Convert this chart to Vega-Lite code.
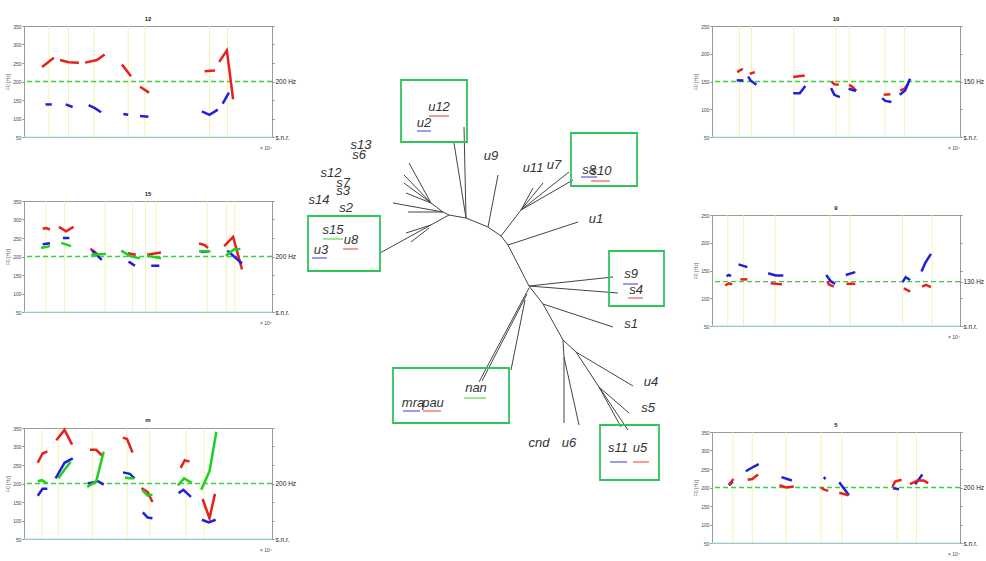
{
"$schema": "https://vega.github.io/schema/vega-lite/v6.json",
"padding": 5,
"spacing": 0,
"config": {
 "font": "Liberation Sans",
 "view": {"stroke": "#9a9a9a"},
 "axis": {"labelFontSize": 5, "titleFontSize": 5, "titleFontWeight": "normal", "labelColor": "#444", "titleColor": "#666", "tickSize": 2, "tickColor": "#888", "domain": false, "grid": false, "labelPadding": 1, "titlePadding": 2},
 "title": {"fontSize": 6, "fontWeight": "bold", "offset": 2, "color": "#222"}
},
"datasets": {
 "vl": [
  {"p":"12","x":0.36},{"p":"12","x":0.64},{"p":"12","x":1.01},{"p":"12","x":1.5},{"p":"12","x":1.74},{"p":"12","x":2.67},{"p":"12","x":2.93},
  {"p":"15","x":0.27},{"p":"15","x":0.5},{"p":"15","x":1.0},{"p":"15","x":1.34},{"p":"15","x":1.5},{"p":"15","x":1.63},{"p":"15","x":2.26},{"p":"15","x":2.5},{"p":"15","x":2.6},
  {"p":"m","x":0.26},{"p":"m","x":0.5},{"p":"m","x":1.0},{"p":"m","x":1.5},{"p":"m","x":1.83},{"p":"m","x":2.36},{"p":"m","x":2.62},
  {"p":"10","x":0.5},{"p":"10","x":0.72},{"p":"10","x":1.49},{"p":"10","x":2.26},{"p":"10","x":2.5},{"p":"10","x":3.15},{"p":"10","x":3.51},
  {"p":"9","x":0.25},{"p":"9","x":0.5},{"p":"9","x":1.0},{"p":"9","x":1.87},{"p":"9","x":2.19},{"p":"9","x":3.02},{"p":"9","x":3.49},
  {"p":"5","x":0.32},{"p":"5","x":0.62},{"p":"5","x":1.14},{"p":"5","x":1.68},{"p":"5","x":2.0},{"p":"5","x":2.85},{"p":"5","x":3.15}
 ],
 "f0": [
  {"p":"12","c":"r","s":"r1","x":0.26,"f":239},{"p":"12","c":"r","s":"r1","x":0.43,"f":264},
  {"p":"12","c":"r","s":"r2","x":0.52,"f":258},{"p":"12","c":"r","s":"r2","x":0.64,"f":252},{"p":"12","c":"r","s":"r2","x":0.79,"f":251},
  {"p":"12","c":"r","s":"r3","x":0.88,"f":251},{"p":"12","c":"r","s":"r3","x":1.05,"f":258},{"p":"12","c":"r","s":"r3","x":1.16,"f":273},
  {"p":"12","c":"r","s":"r4","x":1.41,"f":246},{"p":"12","c":"r","s":"r4","x":1.54,"f":214},
  {"p":"12","c":"r","s":"r5","x":1.67,"f":186},{"p":"12","c":"r","s":"r5","x":1.8,"f":170},
  {"p":"12","c":"r","s":"r6","x":2.6,"f":228},{"p":"12","c":"r","s":"r6","x":2.75,"f":230},
  {"p":"12","c":"r","s":"r7","x":2.81,"f":253},{"p":"12","c":"r","s":"r7","x":2.92,"f":284},{"p":"12","c":"r","s":"r7","x":3.01,"f":152},
  {"p":"12","c":"b","s":"b1","x":0.31,"f":138},{"p":"12","c":"b","s":"b1","x":0.4,"f":138},
  {"p":"12","c":"b","s":"b2","x":0.6,"f":138},{"p":"12","c":"b","s":"b2","x":0.7,"f":131},
  {"p":"12","c":"b","s":"b3","x":0.93,"f":136},{"p":"12","c":"b","s":"b3","x":1.02,"f":128},{"p":"12","c":"b","s":"b3","x":1.11,"f":117},
  {"p":"12","c":"b","s":"b4","x":1.43,"f":112},{"p":"12","c":"b","s":"b4","x":1.5,"f":110},
  {"p":"12","c":"b","s":"b5","x":1.67,"f":107},{"p":"12","c":"b","s":"b5","x":1.79,"f":105},
  {"p":"12","c":"b","s":"b6","x":2.56,"f":119},{"p":"12","c":"b","s":"b6","x":2.67,"f":110},{"p":"12","c":"b","s":"b6","x":2.79,"f":124},
  {"p":"12","c":"b","s":"b7","x":2.86,"f":140},{"p":"12","c":"b","s":"b7","x":2.95,"f":170},

  {"p":"15","c":"r","s":"r1","x":0.23,"f":275},{"p":"15","c":"r","s":"r1","x":0.27,"f":277},{"p":"15","c":"r","s":"r1","x":0.32,"f":273},
  {"p":"15","c":"r","s":"r2","x":0.43,"f":280},{"p":"15","c":"r","s":"r2","x":0.52,"f":268},{"p":"15","c":"r","s":"r2","x":0.61,"f":280},
  {"p":"15","c":"r","s":"r3","x":0.82,"f":221},{"p":"15","c":"r","s":"r3","x":0.91,"f":206},
  {"p":"15","c":"r","s":"r4","x":1.28,"f":209},{"p":"15","c":"r","s":"r4","x":1.38,"f":205},
  {"p":"15","c":"r","s":"r5","x":1.52,"f":205},{"p":"15","c":"r","s":"r5","x":1.63,"f":209},{"p":"15","c":"r","s":"r5","x":1.69,"f":211},
  {"p":"15","c":"r","s":"r6","x":2.16,"f":235},{"p":"15","c":"r","s":"r6","x":2.23,"f":231},{"p":"15","c":"r","s":"r6","x":2.27,"f":223},
  {"p":"15","c":"r","s":"r7","x":2.47,"f":228},{"p":"15","c":"r","s":"r7","x":2.58,"f":253},{"p":"15","c":"r","s":"r7","x":2.69,"f":165},
  {"p":"15","c":"b","s":"b1","x":0.23,"f":233},{"p":"15","c":"b","s":"b1","x":0.32,"f":236},
  {"p":"15","c":"b","s":"b2","x":0.48,"f":250},{"p":"15","c":"b","s":"b2","x":0.56,"f":250},
  {"p":"15","c":"b","s":"b3","x":0.84,"f":216},{"p":"15","c":"b","s":"b3","x":0.96,"f":191},
  {"p":"15","c":"b","s":"b4","x":1.29,"f":186},{"p":"15","c":"b","s":"b4","x":1.37,"f":175},
  {"p":"15","c":"b","s":"b5","x":1.57,"f":175},{"p":"15","c":"b","s":"b5","x":1.67,"f":175},
  {"p":"15","c":"b","s":"b6","x":2.18,"f":212},{"p":"15","c":"b","s":"b6","x":2.28,"f":214},
  {"p":"15","c":"b","s":"b7","x":2.51,"f":216},{"p":"15","c":"b","s":"b7","x":2.69,"f":181},
  {"p":"15","c":"g","s":"g1","x":0.21,"f":223},{"p":"15","c":"g","s":"g1","x":0.32,"f":228},
  {"p":"15","c":"g","s":"g2","x":0.46,"f":237},{"p":"15","c":"g","s":"g2","x":0.58,"f":228},
  {"p":"15","c":"g","s":"g3","x":0.83,"f":205},{"p":"15","c":"g","s":"g3","x":1.01,"f":207},
  {"p":"15","c":"g","s":"g4","x":1.2,"f":216},{"p":"15","c":"g","s":"g4","x":1.3,"f":202},{"p":"15","c":"g","s":"g4","x":1.43,"f":195},
  {"p":"15","c":"g","s":"g5","x":1.52,"f":202},{"p":"15","c":"g","s":"g5","x":1.69,"f":195},
  {"p":"15","c":"g","s":"g6","x":2.16,"f":214},{"p":"15","c":"g","s":"g6","x":2.3,"f":214},
  {"p":"15","c":"g","s":"g7","x":2.49,"f":202},{"p":"15","c":"g","s":"g7","x":2.59,"f":219},{"p":"15","c":"g","s":"g7","x":2.67,"f":220},

  {"p":"m","c":"r","s":"r1","x":0.2,"f":256},{"p":"m","c":"r","s":"r1","x":0.27,"f":281},{"p":"m","c":"r","s":"r1","x":0.34,"f":287},
  {"p":"m","c":"r","s":"r2","x":0.47,"f":317},{"p":"m","c":"r","s":"r2","x":0.59,"f":345},{"p":"m","c":"r","s":"r2","x":0.7,"f":305},
  {"p":"m","c":"r","s":"r3","x":0.96,"f":291},{"p":"m","c":"r","s":"r3","x":1.05,"f":291},{"p":"m","c":"r","s":"r3","x":1.14,"f":275},
  {"p":"m","c":"r","s":"r4","x":1.44,"f":324},{"p":"m","c":"r","s":"r4","x":1.5,"f":320},{"p":"m","c":"r","s":"r4","x":1.58,"f":284},
  {"p":"m","c":"r","s":"r5","x":1.71,"f":188},{"p":"m","c":"r","s":"r5","x":1.8,"f":177},{"p":"m","c":"r","s":"r5","x":1.87,"f":150},
  {"p":"m","c":"r","s":"r6","x":2.28,"f":242},{"p":"m","c":"r","s":"r6","x":2.34,"f":263},{"p":"m","c":"r","s":"r6","x":2.41,"f":259},
  {"p":"m","c":"r","s":"r7","x":2.6,"f":158},{"p":"m","c":"r","s":"r7","x":2.7,"f":106},{"p":"m","c":"r","s":"r7","x":2.78,"f":172},
  {"p":"m","c":"b","s":"b1","x":0.2,"f":167},{"p":"m","c":"b","s":"b1","x":0.27,"f":186},{"p":"m","c":"b","s":"b1","x":0.34,"f":186},
  {"p":"m","c":"b","s":"b2","x":0.46,"f":214},{"p":"m","c":"b","s":"b2","x":0.59,"f":256},{"p":"m","c":"b","s":"b2","x":0.71,"f":268},
  {"p":"m","c":"b","s":"b3","x":0.93,"f":200},{"p":"m","c":"b","s":"b3","x":1.08,"f":206},{"p":"m","c":"b","s":"b3","x":1.16,"f":197},
  {"p":"m","c":"b","s":"b4","x":1.44,"f":230},{"p":"m","c":"b","s":"b4","x":1.54,"f":226},{"p":"m","c":"b","s":"b4","x":1.61,"f":214},
  {"p":"m","c":"b","s":"b5","x":1.73,"f":122},{"p":"m","c":"b","s":"b5","x":1.8,"f":108},{"p":"m","c":"b","s":"b5","x":1.87,"f":106},
  {"p":"m","c":"b","s":"b6","x":2.25,"f":174},{"p":"m","c":"b","s":"b6","x":2.32,"f":183},{"p":"m","c":"b","s":"b6","x":2.43,"f":164},
  {"p":"m","c":"b","s":"b7","x":2.59,"f":102},{"p":"m","c":"b","s":"b7","x":2.69,"f":95},{"p":"m","c":"b","s":"b7","x":2.79,"f":102},
  {"p":"m","c":"g","s":"g1","x":0.2,"f":206},{"p":"m","c":"g","s":"g1","x":0.26,"f":209},{"p":"m","c":"g","s":"g1","x":0.34,"f":200},
  {"p":"m","c":"g","s":"g2","x":0.5,"f":214},{"p":"m","c":"g","s":"g2","x":0.59,"f":237},{"p":"m","c":"g","s":"g2","x":0.68,"f":259},
  {"p":"m","c":"g","s":"g3","x":0.92,"f":191},{"p":"m","c":"g","s":"g3","x":1.05,"f":205},{"p":"m","c":"g","s":"g3","x":1.16,"f":286},
  {"p":"m","c":"g","s":"g4","x":1.47,"f":216},{"p":"m","c":"g","s":"g4","x":1.53,"f":214},{"p":"m","c":"g","s":"g4","x":1.6,"f":214},
  {"p":"m","c":"g","s":"g5","x":1.72,"f":183},{"p":"m","c":"g","s":"g5","x":1.8,"f":167},{"p":"m","c":"g","s":"g5","x":1.87,"f":170},
  {"p":"m","c":"g","s":"g6","x":2.24,"f":195},{"p":"m","c":"g","s":"g6","x":2.33,"f":214},{"p":"m","c":"g","s":"g6","x":2.44,"f":202},
  {"p":"m","c":"g","s":"g7","x":2.58,"f":183},{"p":"m","c":"g","s":"g7","x":2.7,"f":233},{"p":"m","c":"g","s":"g7","x":2.8,"f":340},

  {"p":"10","c":"r","s":"r1","x":0.46,"f":167},{"p":"10","c":"r","s":"r1","x":0.56,"f":173},
  {"p":"10","c":"r","s":"r2","x":0.69,"f":164},{"p":"10","c":"r","s":"r2","x":0.78,"f":167},
  {"p":"10","c":"r","s":"r3","x":1.48,"f":158},{"p":"10","c":"r","s":"r3","x":1.69,"f":161},
  {"p":"10","c":"r","s":"r4","x":2.18,"f":150},{"p":"10","c":"r","s":"r4","x":2.23,"f":145},{"p":"10","c":"r","s":"r4","x":2.31,"f":144},
  {"p":"10","c":"r","s":"r5","x":2.5,"f":144},{"p":"10","c":"r","s":"r5","x":2.56,"f":140},{"p":"10","c":"r","s":"r5","x":2.63,"f":133},
  {"p":"10","c":"r","s":"r6","x":3.13,"f":126},{"p":"10","c":"r","s":"r6","x":3.25,"f":127},
  {"p":"10","c":"r","s":"r7","x":3.43,"f":134},{"p":"10","c":"r","s":"r7","x":3.51,"f":137},{"p":"10","c":"r","s":"r7","x":3.58,"f":147},
  {"p":"10","c":"b","s":"b1","x":0.45,"f":152},{"p":"10","c":"b","s":"b1","x":0.57,"f":152},
  {"p":"10","c":"b","s":"b2","x":0.66,"f":159},{"p":"10","c":"b","s":"b2","x":0.7,"f":152},{"p":"10","c":"b","s":"b2","x":0.81,"f":144},
  {"p":"10","c":"b","s":"b3","x":1.48,"f":129},{"p":"10","c":"b","s":"b3","x":1.6,"f":129},{"p":"10","c":"b","s":"b3","x":1.7,"f":142},
  {"p":"10","c":"b","s":"b4","x":2.17,"f":138},{"p":"10","c":"b","s":"b4","x":2.23,"f":126},{"p":"10","c":"b","s":"b4","x":2.33,"f":122},
  {"p":"10","c":"b","s":"b5","x":2.49,"f":137},{"p":"10","c":"b","s":"b5","x":2.62,"f":133},
  {"p":"10","c":"b","s":"b6","x":3.1,"f":120},{"p":"10","c":"b","s":"b6","x":3.16,"f":115},{"p":"10","c":"b","s":"b6","x":3.27,"f":113},
  {"p":"10","c":"b","s":"b7","x":3.42,"f":126},{"p":"10","c":"b","s":"b7","x":3.52,"f":134},{"p":"10","c":"b","s":"b7","x":3.61,"f":155},

  {"p":"9","c":"b","s":"b1","x":0.23,"f":140},{"p":"9","c":"b","s":"b1","x":0.27,"f":142},{"p":"9","c":"b","s":"b1","x":0.3,"f":140},
  {"p":"9","c":"b","s":"b2","x":0.42,"f":161},{"p":"9","c":"b","s":"b2","x":0.56,"f":156},
  {"p":"9","c":"b","s":"b3","x":0.89,"f":145},{"p":"9","c":"b","s":"b3","x":1.01,"f":141},{"p":"9","c":"b","s":"b3","x":1.13,"f":141},
  {"p":"9","c":"b","s":"b4","x":1.81,"f":142},{"p":"9","c":"b","s":"b4","x":1.88,"f":131},{"p":"9","c":"b","s":"b4","x":1.95,"f":126},
  {"p":"9","c":"b","s":"b5","x":2.12,"f":142},{"p":"9","c":"b","s":"b5","x":2.27,"f":147},
  {"p":"9","c":"b","s":"b6","x":3.02,"f":129},{"p":"9","c":"b","s":"b6","x":3.07,"f":138},{"p":"9","c":"b","s":"b6","x":3.14,"f":133},
  {"p":"9","c":"b","s":"b7","x":3.32,"f":148},{"p":"9","c":"b","s":"b7","x":3.38,"f":164},{"p":"9","c":"b","s":"b7","x":3.47,"f":180},
  {"p":"9","c":"r","s":"r1","x":0.21,"f":123},{"p":"9","c":"r","s":"r1","x":0.27,"f":127},{"p":"9","c":"r","s":"r1","x":0.32,"f":125},
  {"p":"9","c":"r","s":"r2","x":0.45,"f":134},{"p":"9","c":"r","s":"r2","x":0.56,"f":134},
  {"p":"9","c":"r","s":"r3","x":0.93,"f":127},{"p":"9","c":"r","s":"r3","x":1.11,"f":125},
  {"p":"9","c":"r","s":"r4","x":1.83,"f":131},{"p":"9","c":"r","s":"r4","x":1.85,"f":125},{"p":"9","c":"r","s":"r4","x":1.93,"f":121},
  {"p":"9","c":"r","s":"r5","x":2.13,"f":126},{"p":"9","c":"r","s":"r5","x":2.27,"f":126},
  {"p":"9","c":"r","s":"r6","x":3.04,"f":118},{"p":"9","c":"r","s":"r6","x":3.14,"f":112},
  {"p":"9","c":"r","s":"r7","x":3.33,"f":121},{"p":"9","c":"r","s":"r7","x":3.39,"f":124},{"p":"9","c":"r","s":"r7","x":3.47,"f":120},

  {"p":"5","c":"b","s":"b1","x":0.26,"f":206},{"p":"5","c":"b","s":"b1","x":0.32,"f":216},
  {"p":"5","c":"b","s":"b2","x":0.52,"f":244},{"p":"5","c":"b","s":"b2","x":0.64,"f":256},{"p":"5","c":"b","s":"b2","x":0.72,"f":263},
  {"p":"5","c":"b","s":"b3","x":1.07,"f":228},{"p":"5","c":"b","s":"b3","x":1.23,"f":219},
  {"p":"5","c":"b","s":"b4","x":1.72,"f":228},{"p":"5","c":"b","s":"b4","x":1.75,"f":223},
  {"p":"5","c":"b","s":"b5","x":1.96,"f":214},{"p":"5","c":"b","s":"b5","x":2.04,"f":195},{"p":"5","c":"b","s":"b5","x":2.11,"f":179},
  {"p":"5","c":"b","s":"b6","x":2.79,"f":198},{"p":"5","c":"b","s":"b6","x":2.88,"f":195},
  {"p":"5","c":"b","s":"b7","x":3.13,"f":209},{"p":"5","c":"b","s":"b7","x":3.19,"f":223},{"p":"5","c":"b","s":"b7","x":3.24,"f":235},
  {"p":"5","c":"r","s":"r1","x":0.26,"f":207},{"p":"5","c":"r","s":"r1","x":0.33,"f":223},
  {"p":"5","c":"r","s":"r2","x":0.55,"f":221},{"p":"5","c":"r","s":"r2","x":0.62,"f":223},{"p":"5","c":"r","s":"r2","x":0.71,"f":235},
  {"p":"5","c":"r","s":"r3","x":1.04,"f":206},{"p":"5","c":"r","s":"r3","x":1.14,"f":200},{"p":"5","c":"r","s":"r3","x":1.26,"f":203},
  {"p":"5","c":"r","s":"r4","x":1.68,"f":200},{"p":"5","c":"r","s":"r4","x":1.72,"f":195},{"p":"5","c":"r","s":"r4","x":1.79,"f":191},
  {"p":"5","c":"r","s":"r5","x":1.96,"f":186},{"p":"5","c":"r","s":"r5","x":2.1,"f":179},
  {"p":"5","c":"r","s":"r6","x":2.78,"f":202},{"p":"5","c":"r","s":"r6","x":2.82,"f":216},{"p":"5","c":"r","s":"r6","x":2.92,"f":221},
  {"p":"5","c":"r","s":"r7","x":3.05,"f":209},{"p":"5","c":"r","s":"r7","x":3.17,"f":219},{"p":"5","c":"r","s":"r7","x":3.26,"f":219},{"p":"5","c":"r","s":"r7","x":3.33,"f":212}
 ],
 "edges": [
  {"x1":448,"y1":215,"x2":465,"y2":218},{"x1":465,"y1":218,"x2":487,"y2":227},{"x1":487,"y1":227,"x2":500,"y2":236},
  {"x1":500,"y1":236,"x2":507,"y2":245},{"x1":507,"y1":245,"x2":528,"y2":286},{"x1":528,"y1":286,"x2":542,"y2":304},
  {"x1":542,"y1":304,"x2":562,"y2":340},{"x1":562,"y1":340,"x2":575,"y2":352},{"x1":575,"y1":352,"x2":598,"y2":387},
  {"x1":465,"y1":218,"x2":463,"y2":127},{"x1":465,"y1":218,"x2":453,"y2":143},{"x1":487,"y1":227,"x2":497,"y2":175},
  {"x1":500,"y1":236,"x2":520,"y2":210},{"x1":520,"y1":210,"x2":532,"y2":188},{"x1":520,"y1":210,"x2":542,"y2":183},
  {"x1":520,"y1":210,"x2":568,"y2":172},{"x1":520,"y1":210,"x2":572,"y2":180},{"x1":507,"y1":245,"x2":577,"y2":222},
  {"x1":528,"y1":286,"x2":612,"y2":277},{"x1":528,"y1":286,"x2":617,"y2":293},{"x1":542,"y1":304,"x2":612,"y2":327},
  {"x1":562,"y1":340,"x2":563,"y2":357},{"x1":563,"y1":357,"x2":563,"y2":423},{"x1":563,"y1":357,"x2":578,"y2":425},
  {"x1":575,"y1":352,"x2":632,"y2":386},{"x1":598,"y1":387,"x2":628,"y2":413},{"x1":598,"y1":387,"x2":620,"y2":427},
  {"x1":598,"y1":387,"x2":627,"y2":430},{"x1":528,"y1":288,"x2":478,"y2":382},{"x1":526,"y1":294,"x2":481,"y2":381},
  {"x1":524,"y1":300,"x2":510,"y2":370},{"x1":448,"y1":215,"x2":442,"y2":212},{"x1":442,"y1":212,"x2":430,"y2":203},
  {"x1":430,"y1":203,"x2":408,"y2":163},{"x1":430,"y1":203,"x2":403,"y2":175},{"x1":430,"y1":203,"x2":403,"y2":183},
  {"x1":430,"y1":203,"x2":405,"y2":193},{"x1":442,"y1":212,"x2":392,"y2":203},{"x1":442,"y1":212,"x2":407,"y2":212},
  {"x1":448,"y1":215,"x2":379,"y2":253},{"x1":430,"y1":225,"x2":405,"y2":233},{"x1":428,"y1":228,"x2":410,"y2":242}
 ],
 "boxes": [
  {"x1":400,"y1":80,"x2":466,"y2":142},{"x1":307,"y1":216,"x2":379,"y2":271},{"x1":570,"y1":133,"x2":636,"y2":186},
  {"x1":608,"y1":251,"x2":663,"y2":306},{"x1":392,"y1":368,"x2":508,"y2":423},{"x1":599,"y1":425,"x2":658,"y2":480}
 ],
 "ulines": [
  {"c":"r","x1":428,"x2":448,"y":116},{"c":"b","x1":416,"x2":430,"y":131},{"c":"g","x1":322,"x2":342,"y":239},
  {"c":"r","x1":342,"x2":357,"y":249},{"c":"b","x1":311,"x2":326,"y":258},{"c":"b","x1":580,"x2":596,"y":177},
  {"c":"r","x1":590,"x2":609,"y":181},{"c":"b","x1":622,"x2":637,"y":284},{"c":"r","x1":627,"x2":642,"y":298},
  {"c":"b","x1":609,"x2":626,"y":462},{"c":"r","x1":632,"x2":648,"y":462},{"c":"g","x1":463,"x2":485,"y":398},
  {"c":"b","x1":402,"x2":419,"y":411},{"c":"r","x1":422,"x2":440,"y":411}
 ],
 "labels": [
  {"t":"u12","x":438,"y":107},{"t":"u2","x":423,"y":123},{"t":"s13","x":360,"y":145},{"t":"s6","x":358,"y":155},
  {"t":"s12","x":330,"y":173},{"t":"s7","x":342,"y":183},{"t":"s3","x":342,"y":191},{"t":"s14","x":318,"y":200},
  {"t":"s2","x":345,"y":208},{"t":"s15","x":332,"y":230},{"t":"u8","x":350,"y":240},{"t":"u3","x":320,"y":250},
  {"t":"u9","x":490,"y":156},{"t":"u11","x":532,"y":168},{"t":"u7","x":553,"y":165},{"t":"s8","x":588,"y":170},
  {"t":"s10","x":600,"y":171},{"t":"u1","x":595,"y":219},{"t":"s9","x":630,"y":274},{"t":"s4","x":635,"y":290},
  {"t":"s1","x":630,"y":324},{"t":"u4","x":650,"y":382},{"t":"s5","x":647,"y":408},{"t":"s11","x":617,"y":448},
  {"t":"u5","x":639,"y":448},{"t":"cnd","x":538,"y":443},{"t":"u6","x":568,"y":443},{"t":"nan","x":475,"y":388},
  {"t":"mra","x":412,"y":403},{"t":"pau","x":432,"y":403}
 ]
},
"hconcat": [
 {"spacing": 0, "vconcat": [
  {"width": 248, "height": 10, "view": {"stroke": null}, "data": {"values": [{}]}, "mark": {"type": "point", "opacity": 0}, "encoding": {}},
  {"title": "12", "width": 248, "height": 111, "resolve": {"axis": {"y": "independent"}}, "layer": [
   {"data": {"name": "vl"}, "transform": [{"filter": "datum.p=='12'"}], "mark": {"type": "rule", "color": "#eef2a0", "strokeWidth": 0.8},
    "encoding": {"x": {"field": "x", "type": "quantitative", "scale": {"domain": [0, 3.57], "nice": false, "zero": false}, "axis": {"values": [0.5,1,1.5,2,2.5,3,3.5], "title": "sample [ ]"}}}},
   {"data": {"values": [{}]}, "mark": {"type": "rule", "color": "#a8eef0", "strokeWidth": 1.2}, "encoding": {"y": {"datum": 50, "type": "quantitative", "scale": {"domain": [50, 350], "nice": false, "zero": false}, "axis": null}}},
   {"data": {"values": [{}]}, "mark": {"type": "rule", "color": "#3fcf3f", "strokeDash": [5, 3], "strokeWidth": 1.3}, "encoding": {"y": {"datum": 200, "type": "quantitative", "axis": {"orient": "right", "values": [50,100,150,200,250,300,350], "labelExpr": "datum.value==200?'200 Hz':datum.value==50?'s.n.r.':''", "title": null, "labelFontSize": 6.5, "labelColor": "#222"}}}},
   {"data": {"name": "f0"}, "transform": [{"filter": "datum.p=='12'"}], "mark": {"type": "line", "strokeWidth": 2.5},
    "encoding": {"x": {"field": "x", "type": "quantitative", "axis": null}, "y": {"field": "f", "type": "quantitative", "axis": {"values": [50,100,150,200,250,300,350], "title": "F0 [Hz]"}},
     "color": {"field": "c", "type": "nominal", "scale": {"domain": ["b","r","g"], "range": ["#1f1fe0","#e81f1f","#1fd01f"]}, "legend": null}, "detail": {"field": "s"}}},
   {"data": {"values": [{}]}, "mark": {"type": "text", "text": "× 10⁴", "fontSize": 5, "align": "right", "baseline": "top", "dy": 9, "color": "#444"}, "encoding": {"x": {"datum": 3.57, "type": "quantitative", "axis": null}, "y": {"datum": 50, "type": "quantitative", "axis": null}}}
  ]},
  {"width": 248, "height": 38, "view": {"stroke": null}, "data": {"values": [{}]}, "mark": {"type": "point", "opacity": 0}, "encoding": {}},
  {"title": "15", "width": 248, "height": 111, "resolve": {"axis": {"y": "independent"}}, "layer": [
   {"data": {"name": "vl"}, "transform": [{"filter": "datum.p=='15'"}], "mark": {"type": "rule", "color": "#eef2a0", "strokeWidth": 0.8},
    "encoding": {"x": {"field": "x", "type": "quantitative", "scale": {"domain": [0, 3.06], "nice": false, "zero": false}, "axis": {"values": [0.5,1,1.5,2,2.5,3], "title": "sample [ ]"}}}},
   {"data": {"values": [{}]}, "mark": {"type": "rule", "color": "#a8eef0", "strokeWidth": 1.2}, "encoding": {"y": {"datum": 50, "type": "quantitative", "scale": {"domain": [50, 350], "nice": false, "zero": false}, "axis": null}}},
   {"data": {"values": [{}]}, "mark": {"type": "rule", "color": "#3fcf3f", "strokeDash": [5, 3], "strokeWidth": 1.3}, "encoding": {"y": {"datum": 200, "type": "quantitative", "axis": {"orient": "right", "values": [50,100,150,200,250,300,350], "labelExpr": "datum.value==200?'200 Hz':datum.value==50?'s.n.r.':''", "title": null, "labelFontSize": 6.5, "labelColor": "#222"}}}},
   {"data": {"name": "f0"}, "transform": [{"filter": "datum.p=='15'"}], "mark": {"type": "line", "strokeWidth": 2.5},
    "encoding": {"x": {"field": "x", "type": "quantitative", "axis": null}, "y": {"field": "f", "type": "quantitative", "axis": {"values": [50,100,150,200,250,300,350], "title": "F0 [Hz]"}},
     "color": {"field": "c", "type": "nominal", "scale": {"domain": ["b","r","g"], "range": ["#1f1fe0","#e81f1f","#1fd01f"]}, "legend": null}, "detail": {"field": "s"}}},
   {"data": {"values": [{}]}, "mark": {"type": "text", "text": "× 10⁴", "fontSize": 5, "align": "right", "baseline": "top", "dy": 9, "color": "#444"}, "encoding": {"x": {"datum": 3.06, "type": "quantitative", "axis": null}, "y": {"datum": 50, "type": "quantitative", "axis": null}}}
  ]},
  {"width": 248, "height": 89, "view": {"stroke": null}, "data": {"values": [{}]}, "mark": {"type": "point", "opacity": 0}, "encoding": {}},
  {"title": "m", "width": 248, "height": 111, "resolve": {"axis": {"y": "independent"}}, "layer": [
   {"data": {"name": "vl"}, "transform": [{"filter": "datum.p=='m'"}], "mark": {"type": "rule", "color": "#eef2a0", "strokeWidth": 0.8},
    "encoding": {"x": {"field": "x", "type": "quantitative", "scale": {"domain": [0, 3.61], "nice": false, "zero": false}, "axis": {"values": [0.5,1,1.5,2,2.5,3,3.5], "title": "sample [ ]"}}}},
   {"data": {"values": [{}]}, "mark": {"type": "rule", "color": "#a8eef0", "strokeWidth": 1.2}, "encoding": {"y": {"datum": 50, "type": "quantitative", "scale": {"domain": [50, 350], "nice": false, "zero": false}, "axis": null}}},
   {"data": {"values": [{}]}, "mark": {"type": "rule", "color": "#3fcf3f", "strokeDash": [5, 3], "strokeWidth": 1.3}, "encoding": {"y": {"datum": 200, "type": "quantitative", "axis": {"orient": "right", "values": [50,100,150,200,250,300,350], "labelExpr": "datum.value==200?'200 Hz':datum.value==50?'s.n.r.':''", "title": null, "labelFontSize": 6.5, "labelColor": "#222"}}}},
   {"data": {"name": "f0"}, "transform": [{"filter": "datum.p=='m'"}], "mark": {"type": "line", "strokeWidth": 2.5},
    "encoding": {"x": {"field": "x", "type": "quantitative", "axis": null}, "y": {"field": "f", "type": "quantitative", "axis": {"values": [50,100,150,200,250,300,350], "title": "F0 [Hz]"}},
     "color": {"field": "c", "type": "nominal", "scale": {"domain": ["b","r","g"], "range": ["#1f1fe0","#e81f1f","#1fd01f"]}, "legend": null}, "detail": {"field": "s"}}},
   {"data": {"values": [{}]}, "mark": {"type": "text", "text": "× 10⁴", "fontSize": 5, "align": "right", "baseline": "top", "dy": 9, "color": "#444"}, "encoding": {"x": {"datum": 3.61, "type": "quantitative", "axis": null}, "y": {"datum": 50, "type": "quantitative", "axis": null}}}
  ]}
 ]},
 {"width": 396, "height": 551, "view": {"stroke": null}, "layer": [
  {"data": {"name": "edges"}, "mark": {"type": "rule", "color": "#444", "strokeWidth": 1},
   "encoding": {"x": {"field": "x1", "type": "quantitative", "scale": {"domain": [296, 692], "nice": false, "zero": false}, "axis": null},
    "y": {"field": "y1", "type": "quantitative", "scale": {"domain": [5, 556], "reverse": true, "nice": false, "zero": false}, "axis": null},
    "x2": {"field": "x2"}, "y2": {"field": "y2"}}},
  {"data": {"name": "boxes"}, "mark": {"type": "rect", "fill": null, "stroke": "#2fc45a", "strokeWidth": 1.8},
   "encoding": {"x": {"field": "x1", "type": "quantitative"}, "y": {"field": "y1", "type": "quantitative"}, "x2": {"field": "x2"}, "y2": {"field": "y2"}}},
  {"data": {"name": "ulines"}, "mark": {"type": "rule", "strokeWidth": 1.5, "opacity": 0.6},
   "encoding": {"x": {"field": "x1", "type": "quantitative"}, "x2": {"field": "x2"}, "y": {"field": "y", "type": "quantitative"},
    "color": {"field": "c", "type": "nominal", "scale": {"domain": ["b","r","g"], "range": ["#1f1fe0","#e81f1f","#1fd01f"]}, "legend": null}}},
  {"data": {"name": "labels"}, "mark": {"type": "text", "fontStyle": "italic", "fontSize": 13, "font": "Liberation Sans", "color": "#333", "align": "center", "baseline": "middle"},
   "encoding": {"x": {"field": "x", "type": "quantitative"}, "y": {"field": "y", "type": "quantitative"}, "text": {"field": "t"}}}
 ]},
 {"spacing": 0, "vconcat": [
  {"width": 248, "height": 10, "view": {"stroke": null}, "data": {"values": [{}]}, "mark": {"type": "point", "opacity": 0}, "encoding": {}},
  {"title": "10", "width": 248, "height": 111, "resolve": {"axis": {"y": "independent"}}, "layer": [
   {"data": {"name": "vl"}, "transform": [{"filter": "datum.p=='10'"}], "mark": {"type": "rule", "color": "#eef2a0", "strokeWidth": 0.8},
    "encoding": {"x": {"field": "x", "type": "quantitative", "scale": {"domain": [0, 4.52], "nice": false, "zero": false}, "axis": {"values": [0.5,1,1.5,2,2.5,3,3.5,4,4.5], "title": "sample [ ]"}}}},
   {"data": {"values": [{}]}, "mark": {"type": "rule", "color": "#a8eef0", "strokeWidth": 1.2}, "encoding": {"y": {"datum": 50, "type": "quantitative", "scale": {"domain": [50, 250], "nice": false, "zero": false}, "axis": null}}},
   {"data": {"values": [{}]}, "mark": {"type": "rule", "color": "#3fcf3f", "strokeDash": [5, 3], "strokeWidth": 1.3}, "encoding": {"y": {"datum": 150, "type": "quantitative", "axis": {"orient": "right", "values": [50,100,150,200,250], "labelExpr": "datum.value==150?'150 Hz':datum.value==50?'s.n.r.':''", "title": null, "labelFontSize": 6.5, "labelColor": "#222"}}}},
   {"data": {"name": "f0"}, "transform": [{"filter": "datum.p=='10'"}], "mark": {"type": "line", "strokeWidth": 2.5},
    "encoding": {"x": {"field": "x", "type": "quantitative", "axis": null}, "y": {"field": "f", "type": "quantitative", "axis": {"values": [50,100,150,200,250], "title": "F0 [Hz]"}},
     "color": {"field": "c", "type": "nominal", "scale": {"domain": ["b","r","g"], "range": ["#1f1fe0","#e81f1f","#1fd01f"]}, "legend": null}, "detail": {"field": "s"}}},
   {"data": {"values": [{}]}, "mark": {"type": "text", "text": "× 10⁴", "fontSize": 5, "align": "right", "baseline": "top", "dy": 9, "color": "#444"}, "encoding": {"x": {"datum": 4.52, "type": "quantitative", "axis": null}, "y": {"datum": 50, "type": "quantitative", "axis": null}}}
  ]},
  {"width": 248, "height": 52, "view": {"stroke": null}, "data": {"values": [{}]}, "mark": {"type": "point", "opacity": 0}, "encoding": {}},
  {"title": "9", "width": 248, "height": 111, "resolve": {"axis": {"y": "independent"}}, "layer": [
   {"data": {"name": "vl"}, "transform": [{"filter": "datum.p=='9'"}], "mark": {"type": "rule", "color": "#eef2a0", "strokeWidth": 0.8},
    "encoding": {"x": {"field": "x", "type": "quantitative", "scale": {"domain": [0, 3.93], "nice": false, "zero": false}, "axis": {"values": [0.5,1,1.5,2,2.5,3,3.5], "title": "sample [ ]"}}}},
   {"data": {"values": [{}]}, "mark": {"type": "rule", "color": "#a8eef0", "strokeWidth": 1.2}, "encoding": {"y": {"datum": 50, "type": "quantitative", "scale": {"domain": [50, 250], "nice": false, "zero": false}, "axis": null}}},
   {"data": {"values": [{}]}, "mark": {"type": "rule", "color": "#3fcf3f", "strokeDash": [5, 3], "strokeWidth": 1.3}, "encoding": {"y": {"datum": 130, "type": "quantitative", "axis": {"orient": "right", "values": [50,100,130,150,200,250], "labelExpr": "datum.value==130?'130 Hz':datum.value==50?'s.n.r.':''", "title": null, "labelFontSize": 6.5, "labelColor": "#222"}}}},
   {"data": {"name": "f0"}, "transform": [{"filter": "datum.p=='9'"}], "mark": {"type": "line", "strokeWidth": 2.5},
    "encoding": {"x": {"field": "x", "type": "quantitative", "axis": null}, "y": {"field": "f", "type": "quantitative", "axis": {"values": [50,100,150,200,250], "title": "F0 [Hz]"}},
     "color": {"field": "c", "type": "nominal", "scale": {"domain": ["b","r","g"], "range": ["#1f1fe0","#e81f1f","#1fd01f"]}, "legend": null}, "detail": {"field": "s"}}},
   {"data": {"values": [{}]}, "mark": {"type": "text", "text": "× 10⁴", "fontSize": 5, "align": "right", "baseline": "top", "dy": 9, "color": "#444"}, "encoding": {"x": {"datum": 3.93, "type": "quantitative", "axis": null}, "y": {"datum": 50, "type": "quantitative", "axis": null}}}
  ]},
  {"width": 248, "height": 80, "view": {"stroke": null}, "data": {"values": [{}]}, "mark": {"type": "point", "opacity": 0}, "encoding": {}},
  {"title": "5", "width": 248, "height": 111, "resolve": {"axis": {"y": "independent"}}, "layer": [
   {"data": {"name": "vl"}, "transform": [{"filter": "datum.p=='5'"}], "mark": {"type": "rule", "color": "#eef2a0", "strokeWidth": 0.8},
    "encoding": {"x": {"field": "x", "type": "quantitative", "scale": {"domain": [0, 3.82], "nice": false, "zero": false}, "axis": {"values": [0.5,1,1.5,2,2.5,3,3.5], "title": "sample [ ]"}}}},
   {"data": {"values": [{}]}, "mark": {"type": "rule", "color": "#a8eef0", "strokeWidth": 1.2}, "encoding": {"y": {"datum": 50, "type": "quantitative", "scale": {"domain": [50, 350], "nice": false, "zero": false}, "axis": null}}},
   {"data": {"values": [{}]}, "mark": {"type": "rule", "color": "#3fcf3f", "strokeDash": [5, 3], "strokeWidth": 1.3}, "encoding": {"y": {"datum": 200, "type": "quantitative", "axis": {"orient": "right", "values": [50,100,150,200,250,300,350], "labelExpr": "datum.value==200?'200 Hz':datum.value==50?'s.n.r.':''", "title": null, "labelFontSize": 6.5, "labelColor": "#222"}}}},
   {"data": {"name": "f0"}, "transform": [{"filter": "datum.p=='5'"}], "mark": {"type": "line", "strokeWidth": 2.5},
    "encoding": {"x": {"field": "x", "type": "quantitative", "axis": null}, "y": {"field": "f", "type": "quantitative", "axis": {"values": [50,100,150,200,250,300,350], "title": "F0 [Hz]"}},
     "color": {"field": "c", "type": "nominal", "scale": {"domain": ["b","r","g"], "range": ["#1f1fe0","#e81f1f","#1fd01f"]}, "legend": null}, "detail": {"field": "s"}}},
   {"data": {"values": [{}]}, "mark": {"type": "text", "text": "× 10⁴", "fontSize": 5, "align": "right", "baseline": "top", "dy": 9, "color": "#444"}, "encoding": {"x": {"datum": 3.82, "type": "quantitative", "axis": null}, "y": {"datum": 50, "type": "quantitative", "axis": null}}}
  ]}
 ]}
]
}
